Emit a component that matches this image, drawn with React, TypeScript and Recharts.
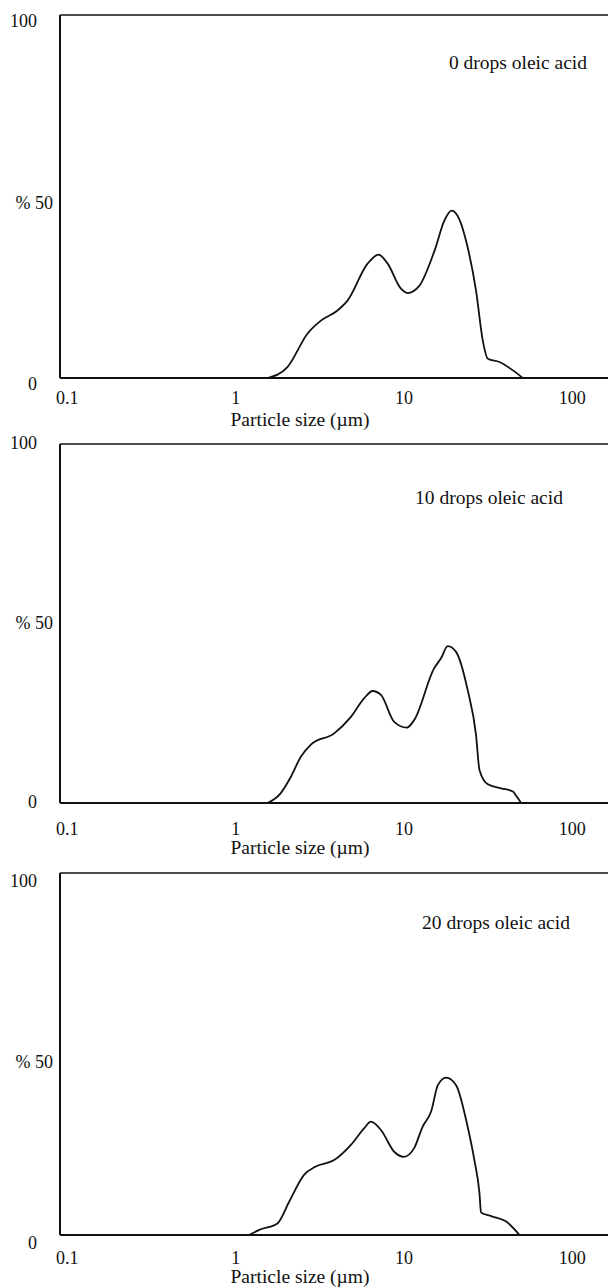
import React from "react";
import { LineChart, Line, XAxis, YAxis, ReferenceLine } from "recharts";

// axis ticks
const xTicks = [0.1, 1, 10, 100];
const yTicks = [0, 50, 100];

// 0 drops oleic acid
const size0 = [1.55, 2.03, 2.67, 3.21, 4.03, 4.62, 6.08, 7.07, 8.0, 9.6, 10.5, 12.3, 15.2, 17.4, 19.2, 21.3, 23.9, 26.8, 29.4, 31.5, 36.9, 44.4, 50.8];
const pct0 = [0, 3.0, 12.2, 15.8, 18.6, 21.3, 31.5, 34.0, 31.5, 24.6, 23.4, 25.3, 35.1, 43.4, 46.1, 43.8, 36.0, 24.1, 10.3, 5.3, 4.4, 2.1, 0];

// 10 drops oleic acid
const size10 = [1.55, 1.85, 2.13, 2.44, 2.79, 3.85, 4.84, 5.81, 6.51, 7.3, 8.75, 10.4, 11.5, 15.1, 16.6, 18.2, 20.4, 23.9, 26.8, 28.1, 31.5, 37.8, 44.4, 46.4, 49.7];
const pct10 = [0, 2.7, 7.3, 12.9, 16.2, 19.4, 24.0, 29.2, 31.2, 30.1, 22.6, 21.0, 23.1, 37.5, 40.3, 43.7, 42.1, 31.5, 19.0, 9.2, 5.2, 4.1, 3.2, 2.0, 0];

// 20 drops oleic acid
const size20 = [1.2, 1.38, 1.77, 2.08, 2.55, 2.99, 3.85, 4.84, 5.81, 6.36, 7.3, 8.75, 10.0, 11.5, 12.9, 14.5, 15.9, 17.8, 20.4, 23.9, 26.2, 28.1, 28.7, 33.0, 40.5, 48.6];
const pct20 = [0, 1.4, 3.2, 9.2, 16.6, 18.9, 20.7, 24.9, 29.5, 31.3, 29.0, 23.0, 21.6, 24.0, 29.9, 34.1, 41.4, 43.5, 41.4, 29.9, 20.7, 11.5, 6.2, 5.2, 3.7, 0];

const captions = ["0 drops oleic acid", "10 drops oleic acid", "20 drops oleic acid"];

const FONT = '"Liberation Serif", "Times New Roman", serif';
const INK = "#111";
const numTxt = { fill: INK, fontSize: 18, fontFamily: FONT };
const wordTxt = { fill: INK, fontSize: 19.5, fontFamily: FONT };

// y tick: "100" and "0" sit a bit left, "% 50" close to the axis
function YTick({ x, y, payload, dy }: any) {
  const mid = payload.value === 50;
  return (
    <text x={x + (mid ? 15 : -1)} y={y + dy} textAnchor="end" dominantBaseline="central" {...numTxt}>
      {mid ? "% 50" : String(payload.value)}
    </text>
  );
}

// ─── one panel ───────────────────────────────────────────────────────────────
function Panel({
  sizes, pct, caption, top, height, marginTop, plotH, tickGap, yDy, capX, capY, labelOffset,
}: {
  sizes: number[]; pct: number[]; caption: string; top: number; height: number;
  marginTop: number; plotH: number; tickGap: number; yDy: number;
  capX: number; capY: number; labelOffset: number;
}) {
  const data = sizes.map((s, i) => ({ size: s, pct: pct[i] }));
  return (
    <div style={{ position: "absolute", left: 0, top }}>
      <LineChart width={608} height={height} data={data}
                 margin={{ top: marginTop, right: 0, bottom: 0, left: 0 }}>
        <XAxis dataKey="size" type="number" scale="log" domain={[0.0905, 163]} allowDataOverflow
               ticks={xTicks} tickFormatter={(v) => String(v)} interval={0}
               tickLine={false} tickSize={0} tickMargin={tickGap}
               axisLine={{ stroke: INK, strokeWidth: 2 }}
               height={height - marginTop - plotH} tick={numTxt}
               label={{ value: "Particle size (µm)", position: "insideBottom", offset: labelOffset, dx: -34, ...wordTxt }} />
        <YAxis type="number" domain={[0, 100]} ticks={yTicks} width={60} interval={0}
               tickLine={false} tickSize={0} tickMargin={22}
               axisLine={{ stroke: INK, strokeWidth: 2 }}
               tick={<YTick dy={yDy} />} />
        <ReferenceLine y={100} stroke={INK} strokeWidth={1.6} />
        <Line type="monotoneX" dataKey="pct" stroke={INK} strokeWidth={1.8}
              dot={false} activeDot={false} isAnimationActive={false} />
        <text x={capX} y={capY} textAnchor="middle" dominantBaseline="central" {...wordTxt}>{caption}</text>
      </LineChart>
    </div>
  );
}

export default function App() {
  return (
    <div style={{ position: "absolute", left: 0, top: 0, width: 608, height: 1288, background: "#fff", overflow: "hidden" }}>
      <Panel sizes={size0} pct={pct0} caption={captions[0]} top={0} height={432}
             marginTop={15} plotH={363} tickGap={13} yDy={6} capX={518} capY={62} labelOffset={6} />
      <Panel sizes={size10} pct={pct10} caption={captions[1]} top={432} height={428}
             marginTop={12} plotH={359} tickGap={19} yDy={-1} capX={489} capY={65} labelOffset={6} />
      <Panel sizes={size20} pct={pct20} caption={captions[2]} top={860} height={428}
             marginTop={13} plotH={362} tickGap={16} yDy={8} capX={496} capY={62} labelOffset={5} />
    </div>
  );
}
